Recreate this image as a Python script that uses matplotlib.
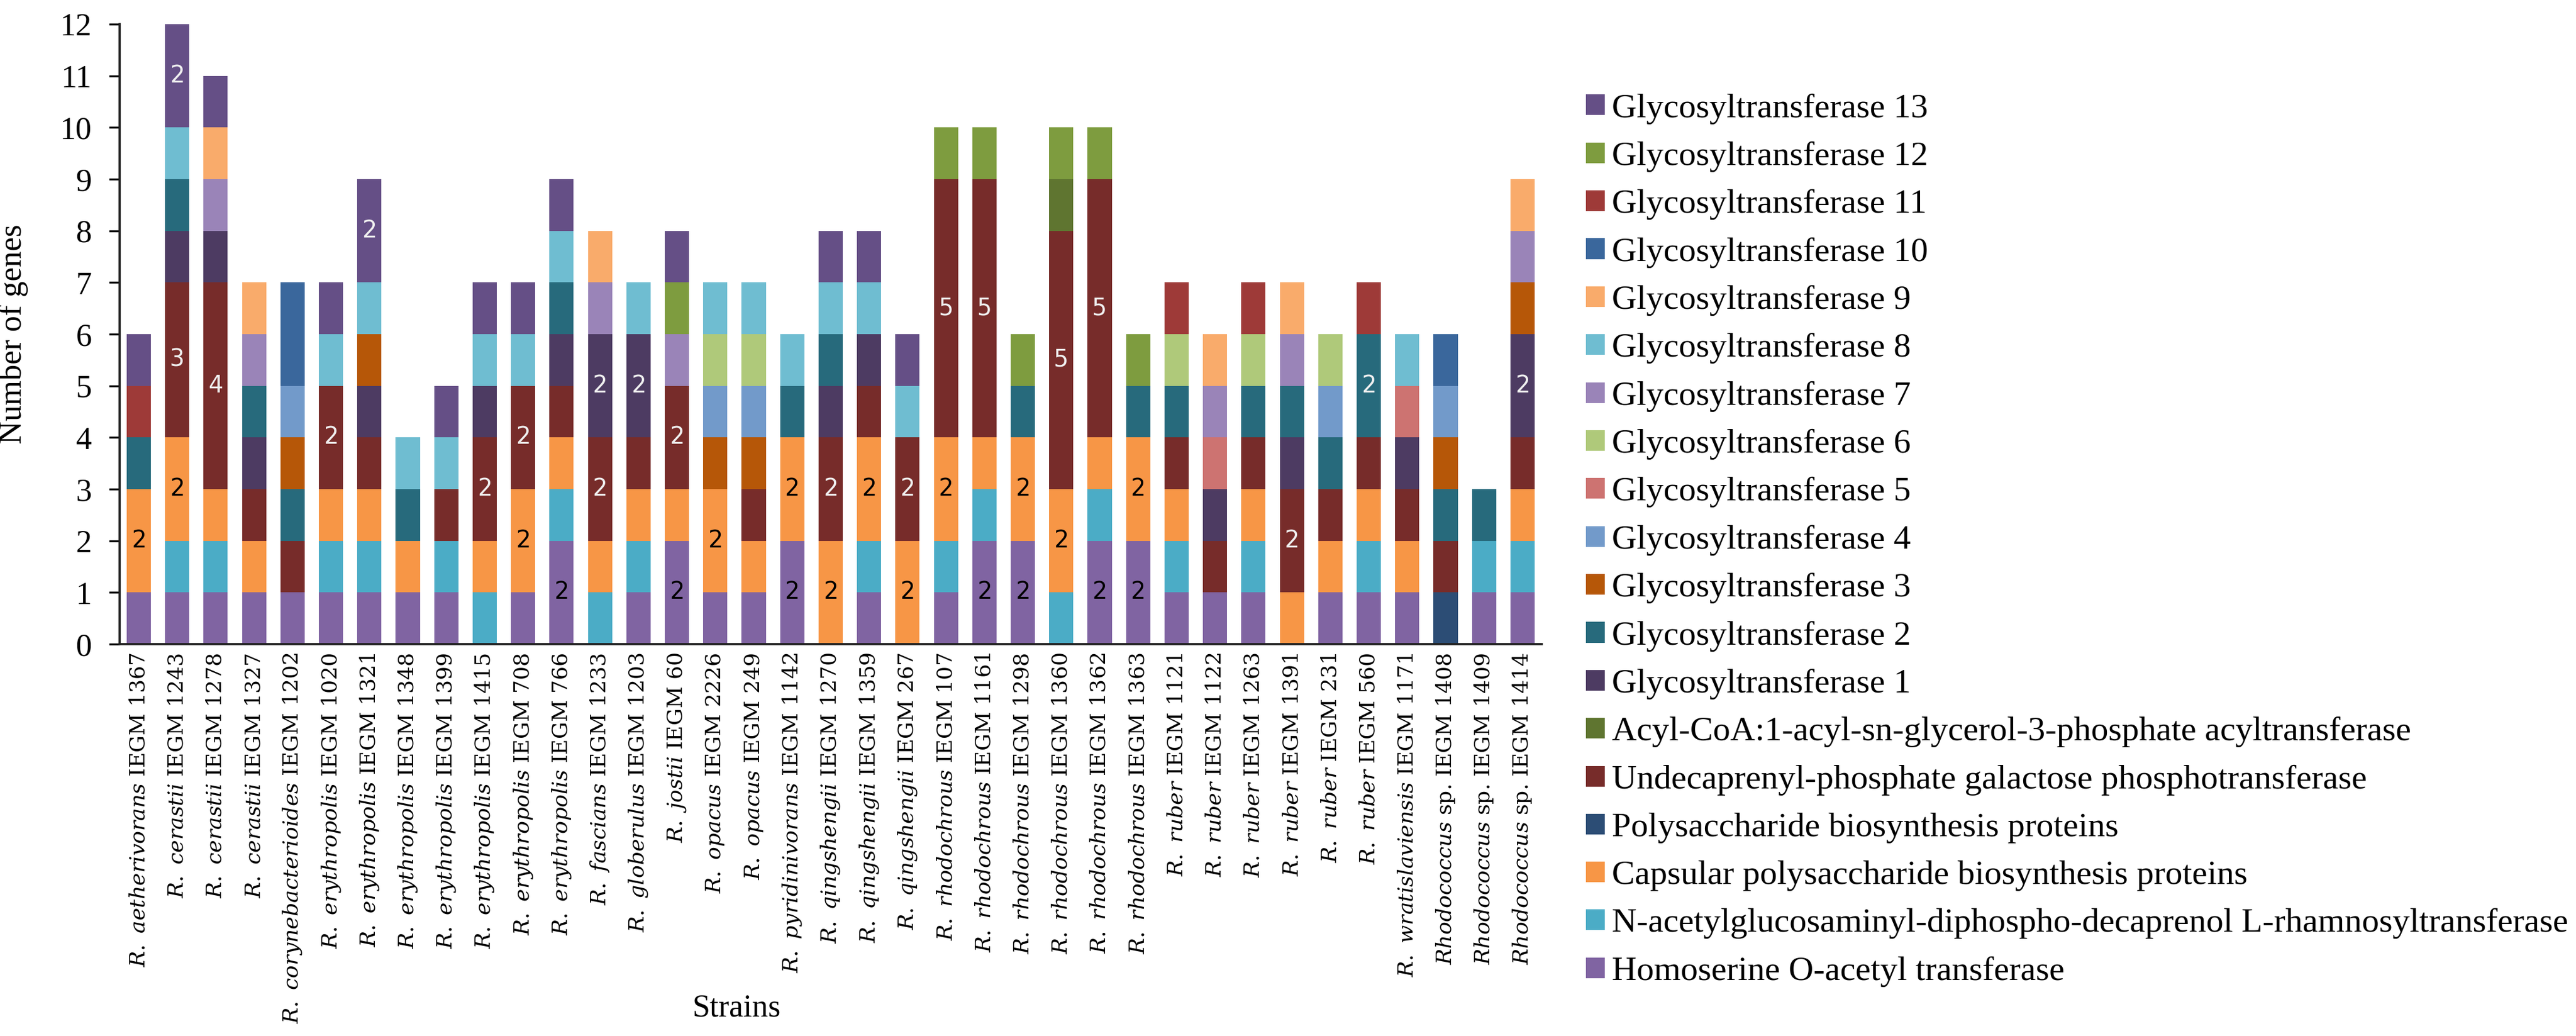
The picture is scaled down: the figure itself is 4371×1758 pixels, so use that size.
import numpy as np
import matplotlib
matplotlib.use("Agg")
import matplotlib.pyplot as plt
from matplotlib.patches import Patch

plt.rcParams.update({"font.family": "Liberation Serif",
                     "mathtext.fontset": "dejavuserif"})

species = ["R. aetherivorans", "R. cerastii", "R. cerastii", "R. cerastii",
           "R. corynebacterioides", "R. erythropolis", "R. erythropolis",
           "R. erythropolis", "R. erythropolis", "R. erythropolis",
           "R. erythropolis", "R. erythropolis", "R. fascians", "R. globerulus",
           "R. jostii", "R. opacus", "R. opacus", "R. pyridinivorans",
           "R. qingshengii", "R. qingshengii", "R. qingshengii",
           "R. rhodochrous", "R. rhodochrous", "R. rhodochrous",
           "R. rhodochrous", "R. rhodochrous", "R. rhodochrous",
           "R. ruber", "R. ruber", "R. ruber", "R. ruber", "R. ruber",
           "R. ruber", "R. wratislaviensis", "Rhodococcus sp.",
           "Rhodococcus sp.", "Rhodococcus sp."]
strain_ids = ["IEGM 1367", "IEGM 1243", "IEGM 1278", "IEGM 1327", "IEGM 1202",
              "IEGM 1020", "IEGM 1321", "IEGM 1348", "IEGM 1399", "IEGM 1415",
              "IEGM 708", "IEGM 766", "IEGM 1233", "IEGM 1203", "IEGM 60",
              "IEGM 2226", "IEGM 249", "IEGM 1142", "IEGM 1270", "IEGM 1359",
              "IEGM 267", "IEGM 107", "IEGM 1161", "IEGM 1298", "IEGM 1360",
              "IEGM 1362", "IEGM 1363", "IEGM 1121", "IEGM 1122", "IEGM 1263",
              "IEGM 1391", "IEGM 231", "IEGM 560", "IEGM 1171", "IEGM 1408",
              "IEGM 1409", "IEGM 1414"]

# gene counts per strain, one list per gene group (stacking order bottom -> top)
homoserine = [1, 1, 1, 1, 1, 1, 1, 1, 1, 0, 1, 2, 0, 1, 2, 1, 1, 2, 0, 1, 0,
              1, 2, 2, 0, 2, 2, 1, 1, 1, 0, 1, 1, 1, 0, 1, 1]
nacetyl = [0, 1, 1, 0, 0, 1, 1, 0, 1, 1, 0, 1, 1, 1, 0, 0, 0, 0, 0, 1, 0,
           1, 1, 0, 1, 1, 0, 1, 0, 1, 0, 0, 1, 0, 0, 1, 1]
capsular = [2, 2, 1, 1, 0, 1, 1, 1, 0, 1, 2, 1, 1, 1, 1, 2, 1, 2, 2, 2, 2,
            2, 1, 2, 2, 1, 2, 1, 0, 1, 1, 1, 1, 1, 0, 0, 1]
polysacch = [0] * 34 + [1, 0, 0]
undecaprenyl = [0, 3, 4, 1, 1, 2, 1, 0, 1, 2, 2, 1, 2, 1, 2, 0, 1, 0, 2, 1, 2,
                5, 5, 0, 5, 5, 0, 1, 1, 1, 2, 1, 1, 1, 1, 0, 1]
acyl = [0] * 24 + [1] + [0] * 12
gt1 = [0, 1, 1, 1, 0, 0, 1, 0, 0, 1, 0, 1, 2, 2, 0, 0, 0, 0, 1, 1, 0,
       0, 0, 0, 0, 0, 0, 0, 1, 0, 1, 0, 0, 1, 0, 0, 2]
gt2 = [1, 1, 0, 1, 1, 0, 0, 1, 0, 0, 0, 1, 0, 0, 0, 0, 0, 1, 1, 0, 0,
       0, 0, 1, 0, 0, 1, 1, 0, 1, 1, 1, 2, 0, 1, 1, 0]
gt3 = [0, 0, 0, 0, 1, 0, 1, 0, 0, 0, 0, 0, 0, 0, 0, 1, 1, 0, 0, 0, 0,
       0, 0, 0, 0, 0, 0, 0, 0, 0, 0, 0, 0, 0, 1, 0, 1]
gt4 = [0, 0, 0, 0, 1, 0, 0, 0, 0, 0, 0, 0, 0, 0, 0, 1, 1, 0, 0, 0, 0,
       0, 0, 0, 0, 0, 0, 0, 0, 0, 0, 1, 0, 0, 1, 0, 0]
gt5 = [0] * 28 + [1] + [0] * 4 + [1, 0, 0, 0]
gt6 = [0] * 15 + [1, 1] + [0] * 10 + [1, 0, 1, 0, 1, 0, 0, 0, 0, 0]
gt7 = [0, 0, 1, 1, 0, 0, 0, 0, 0, 0, 0, 0, 1, 0, 1, 0, 0, 0, 0, 0, 0,
       0, 0, 0, 0, 0, 0, 0, 1, 0, 1, 0, 0, 0, 0, 0, 1]
gt8 = [0, 1, 0, 0, 0, 1, 1, 1, 1, 1, 1, 1, 0, 1, 0, 1, 1, 1, 1, 1, 1,
       0, 0, 0, 0, 0, 0, 0, 0, 0, 0, 0, 0, 1, 0, 0, 0]
gt9 = [0, 0, 1, 1, 0, 0, 0, 0, 0, 0, 0, 0, 1, 0, 0, 0, 0, 0, 0, 0, 0,
       0, 0, 0, 0, 0, 0, 0, 1, 0, 1, 0, 0, 0, 0, 0, 1]
gt10 = [0, 0, 0, 0, 2] + [0] * 29 + [1, 0, 0]
gt11 = [1] + [0] * 26 + [1, 0, 1, 0, 0, 1, 0, 0, 0, 0]
gt12 = [0] * 14 + [1] + [0] * 6 + [1, 1, 1, 1, 1, 1] + [0] * 10
gt13 = [1, 2, 1, 0, 0, 1, 2, 0, 1, 1, 1, 1, 0, 0, 1, 0, 0, 0, 1, 1, 1,
        0, 0, 0, 0, 0, 0, 0, 0, 0, 0, 0, 0, 0, 0, 0, 0]

groups = [
    ("Homoserine O-acetyl transferase", homoserine, "#8064A2", "black"),
    ("N-acetylglucosaminyl-diphospho-decaprenol L-rhamnosyltransferase",
     nacetyl, "#4BACC6", "black"),
    ("Capsular polysaccharide biosynthesis proteins", capsular, "#F79646", "black"),
    ("Polysaccharide biosynthesis proteins", polysacch, "#2C4D75", "white"),
    ("Undecaprenyl-phosphate galactose phosphotransferase", undecaprenyl,
     "#772C2A", "#F0F0F0"),
    ("Acyl-CoA:1-acyl-sn-glycerol-3-phosphate acyltransferase", acyl,
     "#5F7530", "white"),
    ("Glycosyltransferase 1", gt1, "#4D3B62", "#F0F0F0"),
    ("Glycosyltransferase 2", gt2, "#276A7C", "#F0F0F0"),
    ("Glycosyltransferase 3", gt3, "#B65708", "white"),
    ("Glycosyltransferase 4", gt4, "#729ACA", "black"),
    ("Glycosyltransferase 5", gt5, "#CD7371", "black"),
    ("Glycosyltransferase 6", gt6, "#AFC97A", "black"),
    ("Glycosyltransferase 7", gt7, "#9A84B8", "black"),
    ("Glycosyltransferase 8", gt8, "#6FBDD1", "black"),
    ("Glycosyltransferase 9", gt9, "#F9AB6B", "black"),
    ("Glycosyltransferase 10", gt10, "#3A679C", None),   # no count shown
    ("Glycosyltransferase 11", gt11, "#9E3A38", "white"),
    ("Glycosyltransferase 12", gt12, "#7E9C3F", "white"),
    ("Glycosyltransferase 13", gt13, "#654F86", "#F0F0F0"),
]

fig = plt.figure(figsize=(14.57, 5.86), dpi=300)
ax = fig.add_axes([0.0464, 0.3783, 0.5521, 0.5984])

x = np.arange(len(species))
bottom = np.zeros(len(species))
handles = []
for name, vals, col, tcol in groups:
    v = np.array(vals, dtype=float)
    ax.bar(x, v, bottom=bottom, width=0.63, color=col, linewidth=0)
    if tcol is not None:
        for xi, (b, h) in enumerate(zip(bottom, v)):
            if h >= 2:
                ax.text(xi, b + h / 2, f"{int(h)}", ha="center", va="center",
                        fontsize=9.5, color=tcol, family="DejaVu Sans")
    bottom += v
    handles.append(Patch(facecolor=col, label=name))

ax.set_xlim(-0.5, len(species) - 0.5)
ax.set_ylim(0, 12)
ax.set_yticks(range(0, 13))
ax.tick_params(axis="y", labelsize=13, length=4.3, width=0.8, pad=7)
ax.tick_params(axis="x", length=0, pad=3.5)

labels = []
for sp, sid in zip(species, strain_ids):
    if sp.endswith(" sp."):
        labels.append(r"$\it{" + sp[:-4] + "}$ sp. " + sid)
    else:
        labels.append(r"$\it{" + sp.replace(" ", r"\ ") + "}$ " + sid)
ax.set_xticks(x)
ax.set_xticklabels(labels, rotation=90, fontsize=8.7, family="DejaVu Serif")

for s in ["top", "right"]:
    ax.spines[s].set_visible(False)
for s in ["left", "bottom"]:
    ax.spines[s].set_linewidth(0.9)
    ax.spines[s].set_color("#222222")

ax.set_ylabel("Number of genes", fontsize=13)
ax.yaxis.set_label_coords(-0.064, 0.5)
fig.text(1250 / 4371, 1 - 1711 / 1758, "Strains", fontsize=13,
         ha="center", va="center")

fig.legend(handles=handles[::-1], loc="upper left",
           bbox_to_anchor=(2668 / 4371, 1 - 135 / 1758), frameon=False,
           fontsize=14, handlelength=0.55, handleheight=0.55,
           handletextpad=0.2, labelspacing=0.5, borderaxespad=0)

fig.savefig("out.png", dpi=300)
